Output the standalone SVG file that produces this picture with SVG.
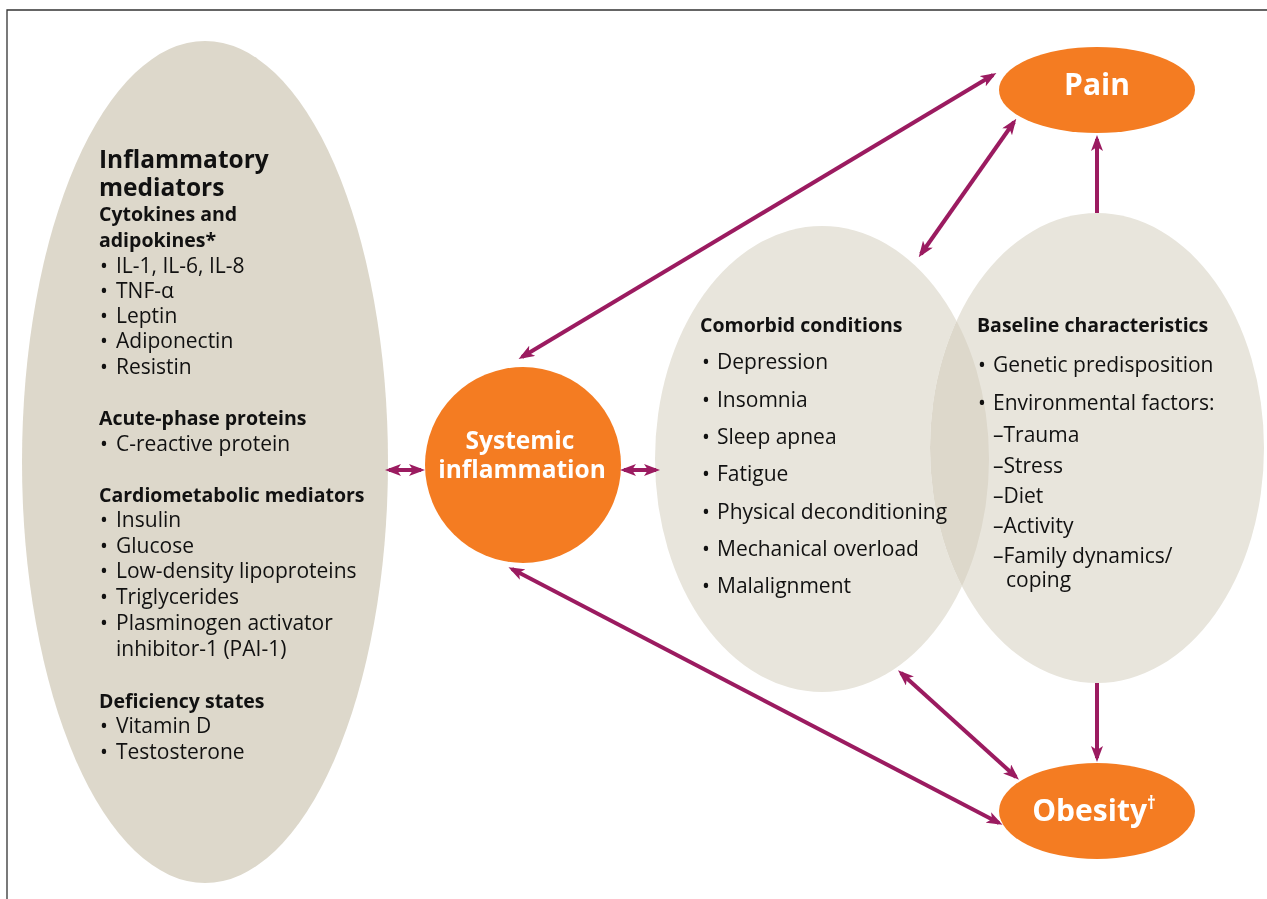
<svg xmlns="http://www.w3.org/2000/svg" width="1267" height="899" viewBox="0 0 1267 899">
<defs>
<marker id="ah" viewBox="0 0 16 12" refX="12" refY="6" markerWidth="16" markerHeight="12" markerUnits="userSpaceOnUse" orient="auto-start-reverse">
<path d="M0,0 L16,6 L0,12 L4,6 z" fill="#9b1b60"/>
</marker>
<clipPath id="outBase"><path clip-rule="evenodd" d="M0,0H1267V899H0Z M930,448 a167,235 0 1,0 334,0 a167,235 0 1,0 -334,0Z"/></clipPath>
<clipPath id="inBase"><ellipse cx="1097" cy="448" rx="167" ry="235"/></clipPath>
<style>
.bg{fill:#ddd8cb}
.lt{fill:#e8e5dc}
.ov{fill:#f3f1ec;mix-blend-mode:multiply}
.or{fill:#f47c22}
.t{font-family:"Open Sans","Noto Sans",sans-serif;font-size:21px;fill:#111}
.b{font-weight:bold;font-size:19.5px}
.w{font-family:"Open Sans","Noto Sans",sans-serif;font-weight:bold;fill:#fff;text-anchor:middle}
.c{stroke:#9b1b60;stroke-width:4;fill:none;marker-end:url(#ah)}
.d{marker-start:url(#ah)}
</style>
</defs>
<rect x="0" y="0" width="1267" height="899" fill="#fff"/>
<path d="M7,899 V10 H1267" fill="none" stroke="#333" stroke-width="1.3"/>

<g id="mediators">
<ellipse class="bg" cx="205" cy="462" rx="183" ry="421"/>
<text class="t b" x="99" y="168" style="font-size:24.5px">Inflammatory</text>
<text class="t b" x="99" y="196" style="font-size:24.5px">mediators</text>
<text class="t b" x="99" y="221">Cytokines and</text>
<text class="t b" x="99" y="247">adipokines*</text>
<text class="t" x="100" y="273">•<tspan x="116">IL-1, IL-6, IL-8</tspan></text>
<text class="t" x="100" y="298">•<tspan x="116">TNF-α</tspan></text>
<text class="t" x="100" y="323">•<tspan x="116">Leptin</tspan></text>
<text class="t" x="100" y="348">•<tspan x="116">Adiponectin</tspan></text>
<text class="t" x="100" y="374">•<tspan x="116">Resistin</tspan></text>
<text class="t b" x="99" y="425">Acute-phase proteins</text>
<text class="t" x="100" y="451">•<tspan x="116">C-reactive protein</tspan></text>
<text class="t b" x="99" y="502">Cardiometabolic mediators</text>
<text class="t" x="100" y="527">•<tspan x="116">Insulin</tspan></text>
<text class="t" x="100" y="553">•<tspan x="116">Glucose</tspan></text>
<text class="t" x="100" y="578">•<tspan x="116">Low-density lipoproteins</tspan></text>
<text class="t" x="100" y="604">•<tspan x="116">Triglycerides</tspan></text>
<text class="t" x="100" y="630">•<tspan x="116">Plasminogen activator</tspan></text>
<text class="t" x="116" y="656">inhibitor-1 (PAI-1)</text>
<text class="t b" x="99" y="708">Deficiency states</text>
<text class="t" x="100" y="733">•<tspan x="116">Vitamin D</tspan></text>
<text class="t" x="100" y="759">•<tspan x="116">Testosterone</tspan></text>
</g>

<g id="systemic">
<circle class="or" cx="523" cy="465" r="98"/>
<text class="w" x="520" y="449" font-size="24.5">Systemic</text>
<text class="w" x="522" y="478" font-size="24.5">inflammation</text>
</g>

<g id="baseline">
<ellipse class="lt" cx="1097" cy="448" rx="167" ry="235"/>
<text class="t b" x="977" y="332">Baseline characteristics</text>
<text class="t" x="978" y="372">•<tspan x="993">Genetic predisposition</tspan></text>
<text class="t" x="978" y="410">•<tspan x="993">Environmental factors:</tspan></text>
<text class="t" x="993" y="442">–Trauma</text>
<text class="t" x="993" y="473">–Stress</text>
<text class="t" x="993" y="503">–Diet</text>
<text class="t" x="993" y="533">–Activity</text>
<text class="t" x="993" y="563">–Family dynamics/</text>
<text class="t" x="1006" y="587">coping</text>
</g>

<g id="comorbid">
<ellipse class="lt" cx="822" cy="459" rx="167" ry="233" clip-path="url(#outBase)"/>
<ellipse class="ov" cx="822" cy="459" rx="167" ry="233" clip-path="url(#inBase)"/>
<text class="t b" x="700" y="332">Comorbid conditions</text>
<text class="t" x="702" y="369">•<tspan x="717">Depression</tspan></text>
<text class="t" x="702" y="407">•<tspan x="717">Insomnia</tspan></text>
<text class="t" x="702" y="444">•<tspan x="717">Sleep apnea</tspan></text>
<text class="t" x="702" y="481">•<tspan x="717">Fatigue</tspan></text>
<text class="t" x="702" y="519">•<tspan x="717">Physical deconditioning</tspan></text>
<text class="t" x="702" y="556">•<tspan x="717">Mechanical overload</tspan></text>
<text class="t" x="702" y="593">•<tspan x="717">Malalignment</tspan></text>
</g>

<g id="pain">
<ellipse class="or" cx="1097" cy="90" rx="98" ry="43"/>
<text class="w" x="1097" y="95" font-size="30">Pain</text>
</g>

<g id="obesity">
<ellipse class="or" cx="1097" cy="811" rx="98" ry="48"/>
<text class="w" x="1094" y="821" font-size="30">Obesity<tspan font-size="17" dy="-12">†</tspan></text>
</g>

<g id="connectors">
<line class="c d" x1="389" y1="470" x2="421" y2="470"/>
<line class="c d" x1="624" y1="470" x2="656" y2="470"/>
<line class="c d" x1="522" y1="357" x2="993" y2="75"/>
<line class="c d" x1="921" y1="254" x2="1014" y2="122"/>
<line class="c" x1="1097" y1="213" x2="1097" y2="139"/>
<line class="c" x1="1097" y1="683" x2="1097" y2="758"/>
<line class="c d" x1="901" y1="673" x2="1016" y2="777"/>
<line class="c d" x1="512" y1="569" x2="999" y2="823"/>
</g>
</svg>
